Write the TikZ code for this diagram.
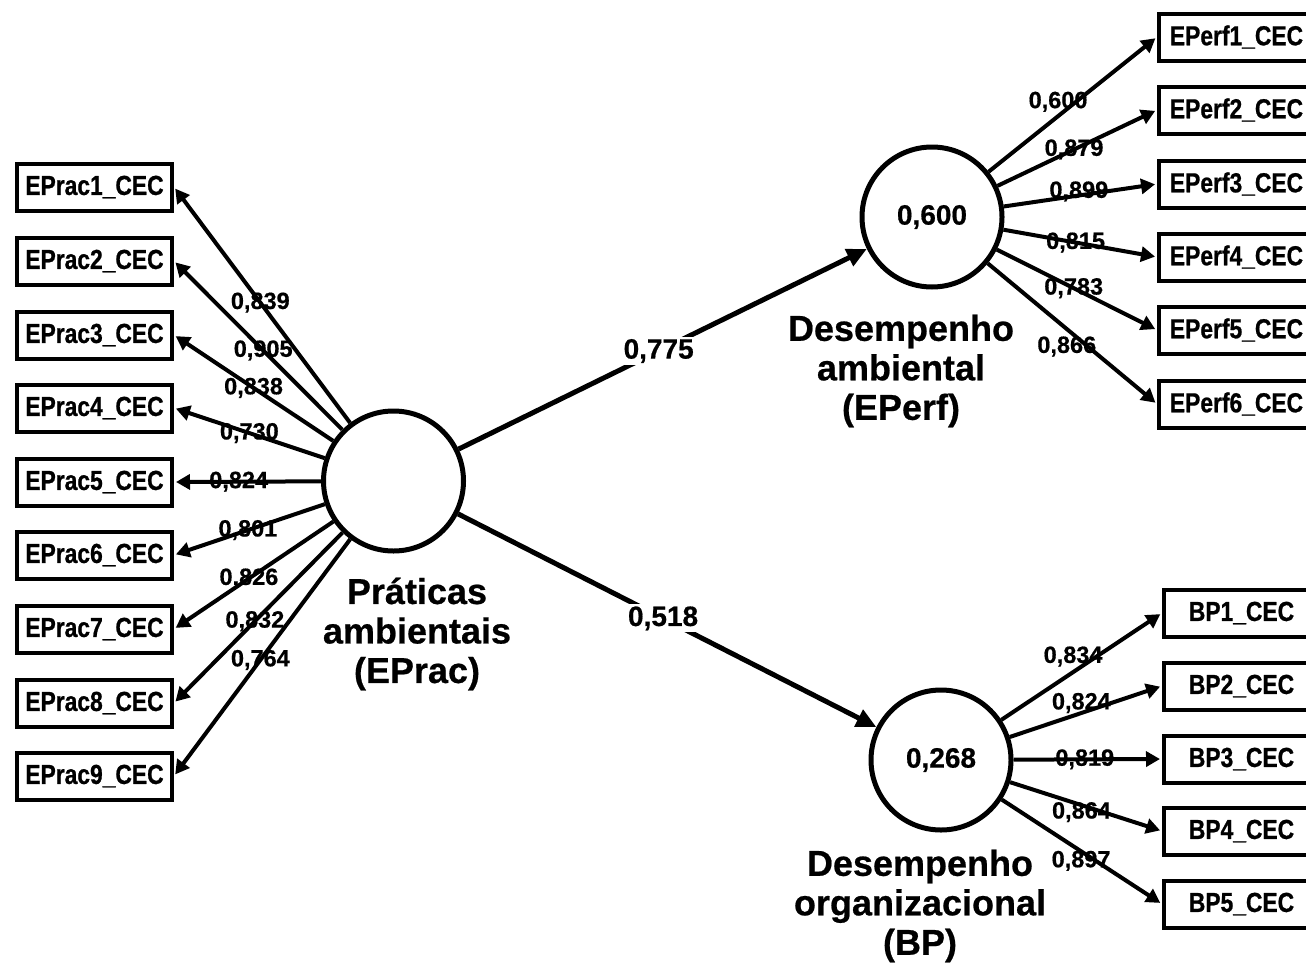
\documentclass[tikz,border=0pt]{standalone}
\usepackage{fontspec}
\setmainfont{Liberation Sans}
\newfontfamily\boxfont[FakeStretch=0.83,FakeBold=0.8]{Liberation Sans Bold}
\newfontfamily\numfont[FakeBold=0.6]{Liberation Sans Bold}
\usetikzlibrary{arrows.meta}

\begin{document}
\begin{tikzpicture}[x=1pt,y=-1pt,every node/.style={font=\bfseries},
  ind/.style={draw,line width=4pt,minimum width=155pt,minimum height=47pt,inner sep=0pt,font=\boxfont\fontsize{27.5}{30}\selectfont},
  lat/.style={draw,circle,line width=5pt,minimum size=140pt,inner sep=0pt,font=\numfont\fontsize{28}{32}\selectfont},
  latname/.style={align=center,font=\numfont\fontsize{36}{39.5}\selectfont},
  load/.style={inner sep=0pt,font=\numfont\fontsize{23.5}{26}\selectfont},
  coef/.style={fill=white,inner sep=2pt,font=\numfont\fontsize{28}{32}\selectfont},
  loadarrow/.style={line width=4pt,-{Triangle[length=14pt,width=15pt]},shorten >=2pt},
  struct/.style={line width=5pt,-{Triangle[length=20pt,width=18pt]}}]
\useasboundingbox (0,0) rectangle (1306,964);
% latent variables
\node[lat] (EPrac) at (393.5,481) {};
\node[lat] (EPerf) at (932,217) {0,600};
\node[lat] (BP)    at (941,760) {0,268};
\node[latname] (EPracname) at (417,634) {Práticas\\ambientais\\(EPrac)};
\node[latname] (EPerfname) at (901,371) {Desempenho\\ambiental\\(EPerf)};
\node[latname] (BPname)    at (920,906) {Desempenho\\organizacional\\(BP)};
% indicators
\node[ind] (EPrac1) at (94.5,187) {EPrac1\_CEC};
\node[ind] (EPrac2) at (94.5,261) {EPrac2\_CEC};
\node[ind] (EPrac3) at (94.5,335) {EPrac3\_CEC};
\node[ind] (EPrac4) at (94.5,408) {EPrac4\_CEC};
\node[ind] (EPrac5) at (94.5,482) {EPrac5\_CEC};
\node[ind] (EPrac6) at (94.5,555) {EPrac6\_CEC};
\node[ind] (EPrac7) at (94.5,629) {EPrac7\_CEC};
\node[ind] (EPrac8) at (94.5,703) {EPrac8\_CEC};
\node[ind] (EPrac9) at (94.5,776) {EPrac9\_CEC};
\node[ind] (EPerf1) at (1236.5,37)  {EPerf1\_CEC};
\node[ind] (EPerf2) at (1236.5,110) {EPerf2\_CEC};
\node[ind] (EPerf3) at (1236.5,184) {EPerf3\_CEC};
\node[ind] (EPerf4) at (1236.5,257) {EPerf4\_CEC};
\node[ind] (EPerf5) at (1236.5,330) {EPerf5\_CEC};
\node[ind] (EPerf6) at (1236.5,404) {EPerf6\_CEC};
\node[ind] (BP1) at (1241.5,613) {BP1\_CEC};
\node[ind] (BP2) at (1241.5,686) {BP2\_CEC};
\node[ind] (BP3) at (1241.5,759) {BP3\_CEC};
\node[ind] (BP4) at (1241.5,831) {BP4\_CEC};
\node[ind] (BP5) at (1241.5,904) {BP5\_CEC};
% loadings
\draw[loadarrow] (EPrac) -- (EPrac1.east) node[load,pos=.51] (w1) {0,839};
\draw[loadarrow] (EPrac) -- (EPrac2.east) node[load,pos=.47] (w2) {0,905};
\draw[loadarrow] (EPrac) -- (EPrac3.east) node[load,pos=.50] (w3) {0,838};
\draw[loadarrow] (EPrac) -- (EPrac4.east) node[load,pos=.50] (w4) {0,730};
\draw[loadarrow] (EPrac) -- (EPrac5.east) node[load,pos=.56] (w5) {0,824};
\draw[loadarrow] (EPrac) -- (EPrac6.east) node[load,pos=.51] (w6) {0,801};
\draw[loadarrow] (EPrac) -- (EPrac7.east) node[load,pos=.53] (w7) {0,826};
\draw[loadarrow] (EPrac) -- (EPrac8.east) node[load,pos=.52] (w8) {0,832};
\draw[loadarrow] (EPrac) -- (EPrac9.east) node[load,pos=.51] (w9) {0,764};
\draw[loadarrow] (EPerf) -- (EPerf1.west) node[load,pos=.46,xshift=-8pt,yshift=8pt] (v1) {0,600};
\draw[loadarrow] (EPerf) -- (EPerf2.west) node[load,pos=.48] (v2) {0,879};
\draw[loadarrow] (EPerf) -- (EPerf3.west) node[load,pos=.49,yshift=4pt] (v3) {0,899};
\draw[loadarrow] (EPerf) -- (EPerf4.west) node[load,pos=.47] (v4) {0,815};
\draw[loadarrow] (EPerf) -- (EPerf5.west) node[load,pos=.48] (v5) {0,783};
\draw[loadarrow] (EPerf) -- (EPerf6.west) node[load,pos=.52,xshift=-9pt,yshift=-10pt] (v6) {0,866};
\draw[loadarrow] (BP) -- (BP1.west) node[load,pos=.49,xshift=-7pt,yshift=11pt] (u1) {0,834};
\draw[loadarrow] (BP) -- (BP2.west) node[load,pos=.49,xshift=-3pt,yshift=9pt] (u2) {0,824};
\draw[loadarrow] (BP) -- (BP3.west) node[load,pos=.48] (u3) {0,819};
\draw[loadarrow] (BP) -- (BP4.west) node[load,pos=.47,yshift=-7pt] (u4) {0,864};
\draw[loadarrow] (BP) -- (BP5.west) node[load,pos=.52,xshift=-4pt,yshift=-7pt] (u5) {0,897};
% structural paths
\draw[struct] (EPrac) -- (EPerf) node[coef,pos=.49] (b1) {0,775};
\draw[struct] (EPrac) -- (BP) node[coef,pos=.49] (b2) {0,518};
\end{tikzpicture}
\end{document}
